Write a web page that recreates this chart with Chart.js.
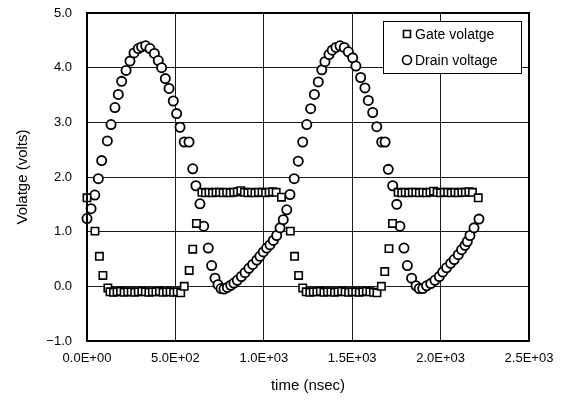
<!DOCTYPE html>
<html>
<head>
<meta charset="utf-8">
<script src="https://cdn.jsdelivr.net/npm/chart.js@4.4.0/dist/chart.umd.min.js"></script>
<style>
  html, body { margin:0; padding:0; background:#fff; }
  #wrap { width:563px; height:405px; }
</style>
</head>
<body>
<div id="wrap"><canvas id="chartVoltage" width="563" height="405"></canvas></div>
<script>
// time (nsec) / volts
const gateTime = [0,45,70,90,118,
  130,150,170,190,210,230,250,270,290,310,330,350,370,390,410,430,450,470,490,510,530,
  550,578,598,619,
  650,670,690,710,730,750,770,790,810,830,850,870,890,910,930,950,970,990,1010,1030,1050,1070,
  1100,
  1150,1174,1197,1220,
  1240,1260,1280,1300,1320,1340,1360,1380,1400,1420,1440,1460,1480,1500,1520,1540,1560,1580,1600,1620,1640,
  1665,1684,1708,1728,
  1760,1780,1800,1820,1840,1860,1880,1900,1920,1940,1960,1980,2000,2020,2040,2060,2080,2100,2120,2140,2160,2180,
  2213];
const gateVolts = [1.62,1.01,0.55,0.20,-0.03,
  -0.10,-0.11,-0.10,-0.09,-0.11,-0.10,-0.10,-0.11,-0.10,-0.09,-0.10,-0.11,-0.10,-0.10,-0.09,-0.11,-0.10,-0.10,-0.11,-0.10,-0.12,
  0.00,0.29,0.68,1.15,
  1.72,1.71,1.72,1.71,1.72,1.72,1.71,1.72,1.71,1.72,1.73,1.75,1.72,1.71,1.72,1.71,1.72,1.72,1.71,1.72,1.73,1.72,
  1.63,
  1.01,0.55,0.20,-0.03,
  -0.10,-0.11,-0.10,-0.10,-0.09,-0.11,-0.10,-0.10,-0.11,-0.10,-0.09,-0.10,-0.11,-0.10,-0.10,-0.11,-0.10,-0.09,-0.10,-0.11,-0.12,
  0.00,0.27,0.69,1.15,
  1.72,1.71,1.72,1.71,1.72,1.72,1.71,1.72,1.71,1.72,1.74,1.72,1.71,1.72,1.72,1.71,1.72,1.71,1.72,1.72,1.73,1.72,
  1.62];

const drainTime = [0,23,44,64,83,115,136,158,177,196,221,243,266,290,309,332,356,381,403,422,443,464,488,507,526,
  550,577,598,616,639,660,686,705,724,741,758,775,794,813,831,850,873,894,916,937,960,978,997,1016,1035,1054,1073,1092,
  1110,1130,1148,1172,1195,1220,1243,1265,1286,1308,1328,1346,1369,1387,1408,1431,1455,1478,1503,1521,1548,1572,1591,1616,1639,
  1667,1686,1704,1729,1752,1770,1793,1812,1836,1861,1879,1899,1921,1944,1968,1993,2012,2034,2057,2077,2100,2119,2138,2151,2166,2189,2217];
const drainVolts = [1.24,1.42,1.67,1.97,2.30,2.66,2.96,3.27,3.51,3.75,3.95,4.12,4.27,4.35,4.38,4.40,4.35,4.26,4.13,4.00,3.80,3.62,3.39,3.16,2.91,
  2.64,2.64,2.15,1.84,1.51,1.10,0.70,0.38,0.15,0.03,-0.04,-0.05,-0.02,0.02,0.06,0.11,0.18,0.25,0.33,0.40,0.48,0.55,0.63,0.70,0.76,0.84,0.93,1.07,
  1.22,1.40,1.68,1.97,2.29,2.64,2.96,3.25,3.51,3.74,3.96,4.11,4.24,4.32,4.37,4.40,4.37,4.29,4.18,4.03,3.82,3.63,3.40,3.18,2.92,
  2.64,2.64,2.14,1.84,1.50,1.10,0.70,0.38,0.15,0.01,-0.04,-0.04,0.01,0.05,0.11,0.18,0.26,0.34,0.42,0.49,0.58,0.67,0.75,0.82,0.93,1.07,1.23];

const seriesNames = ['Gate volatge', 'Drain voltage'];
const xTitle = 'time (nsec)';
const yTitle = 'Volatge (volts)';

const FONT = '"Liberation Sans", Arial, sans-serif';
const toPoints = (xs, ys) => xs.map((x, i) => ({ x, y: ys[i] }));
const sci = v => {
  const [m, e] = v.toExponential(1).split('e');
  const n = Math.abs(parseInt(e, 10));
  return m + 'E' + (e[0] === '-' ? '-' : '+') + String(n).padStart(2, '0');
};
const volts = v => (v < 0 ? '\u2212' : '') + Math.abs(v).toFixed(1);
// keep the plot box where layout.padding says, labels may overhang
const noOverhang = s => { s.paddingTop = s.paddingBottom = s.paddingLeft = s.paddingRight = 0; };

// frame round the plot + boxed legend inside the top-right corner
const plotFrame = {
  id: 'plotFrame',
  afterDraw(chart) {
    const { ctx, chartArea: a } = chart;
    ctx.save();
    ctx.strokeStyle = '#000';
    ctx.lineWidth = 2;
    ctx.strokeRect(a.left, a.top, a.right - a.left, a.bottom - a.top);

    const w = 138, h = 52;
    const bx = a.right - 8 - w, by = a.top + 8;
    ctx.fillStyle = '#fff';
    ctx.fillRect(bx, by, w, h);
    ctx.lineWidth = 1;
    ctx.strokeRect(bx + 0.5, by + 0.5, w, h);

    ctx.font = '14px ' + FONT;
    ctx.textBaseline = 'middle';
    chart.data.datasets.forEach((ds, i) => {
      const cy = by + 13 + i * 26, cx = bx + 24;
      ctx.lineWidth = 1.6;
      ctx.strokeStyle = '#000';
      ctx.beginPath();
      if (ds.pointStyle === 'rect') ctx.rect(cx - 3.5, cy - 3.5, 7, 7);
      else ctx.arc(cx, cy, 4.5, 0, Math.PI * 2);
      ctx.stroke();
      ctx.fillStyle = '#000';
      ctx.fillText(ds.label, bx + 32, cy + 1);
    });
    ctx.restore();
  }
};

new Chart(document.getElementById('chartVoltage'), {
  type: 'scatter',
  data: {
    datasets: [
      { label: seriesNames[0], data: toPoints(gateTime, gateVolts), pointStyle: 'rect', clip: 10,
        pointRadius: 5.2, borderColor: '#000', backgroundColor: '#fff', borderWidth: 1.6 },
      { label: seriesNames[1], data: toPoints(drainTime, drainVolts), pointStyle: 'circle', clip: 10,
        pointRadius: 4.6, borderColor: '#000', backgroundColor: '#fff', borderWidth: 1.8 }
    ]
  },
  options: {
    responsive: false,
    animation: false,
    layout: { padding: { left: 0, right: 34, top: 13, bottom: 0 } },
    plugins: { legend: { display: false }, tooltip: { enabled: false } },
    scales: {
      x: {
        type: 'linear', min: 0, max: 2500,
        afterFit: s => { s.height = 64; noOverhang(s); },
        ticks: { stepSize: 500, color: '#000', padding: 10, maxRotation: 0,
                 font: { family: FONT, size: 13 }, callback: v => sci(v) },
        grid: { color: '#1a1a1a', lineWidth: 1, drawTicks: false },
        border: { display: false },
        title: { display: true, text: xTitle, color: '#000',
                 font: { family: FONT, size: 15 }, padding: { top: 0, bottom: 10 } }
      },
      y: {
        type: 'linear', min: -1, max: 5,
        afterFit: s => { s.width = 87; noOverhang(s); },
        ticks: { stepSize: 1, color: '#000', padding: 15,
                 font: { family: FONT, size: 13 }, callback: v => volts(v) },
        grid: { color: '#1a1a1a', lineWidth: 1, drawTicks: false },
        border: { display: false },
        title: { display: true, text: yTitle, color: '#000',
                 font: { family: FONT, size: 15 }, padding: { top: 14, bottom: 0 } }
      }
    }
  },
  plugins: [plotFrame]
});
</script>
</body>
</html>
